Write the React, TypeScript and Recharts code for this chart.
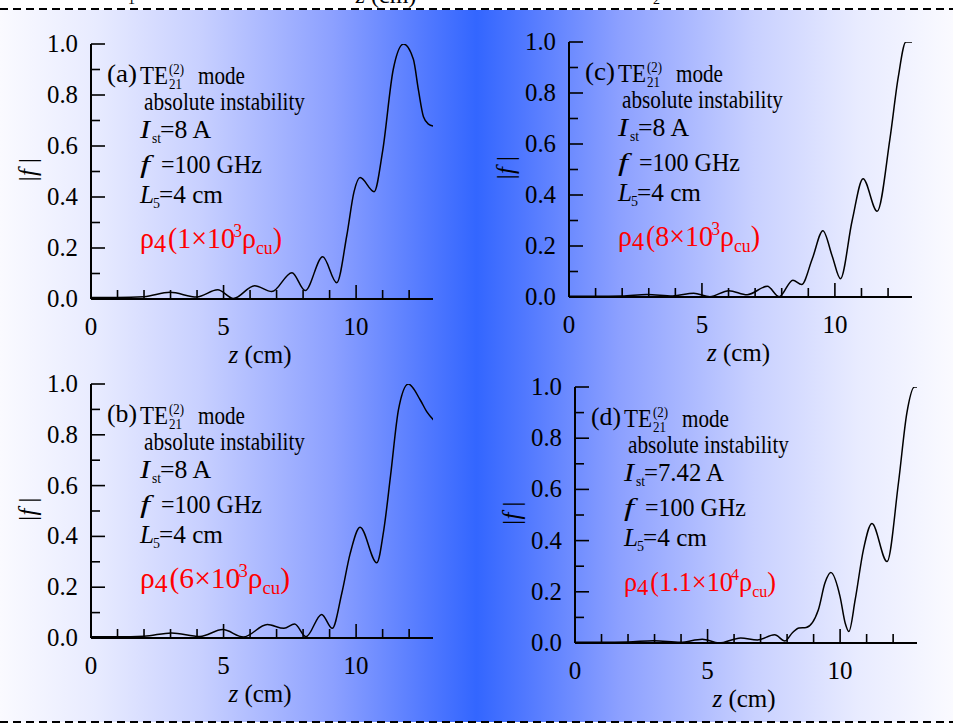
import React from 'react';
import { LineChart, Line, XAxis, YAxis } from 'recharts';

const SERIF = '"Liberation Serif", "Times New Roman", serif';

// z (cm) / |f|
const zA = [0, 1, 2, 2.98, 3.99, 4.78, 5.37, 6.17, 6.82, 7.58, 8.08, 8.74, 9.27, 9.65, 9.92, 10.15, 10.68, 11.0, 11.4, 11.79, 12.16, 12.35, 12.54, 12.73, 12.92];
const fA = [0.006, 0.006, 0.009, 0.026, 0.008, 0.036, 0.002, 0.052, 0.029, 0.103, 0.033, 0.166, 0.064, 0.25, 0.42, 0.476, 0.421, 0.58, 0.9, 1.0, 0.94, 0.82, 0.715, 0.686, 0.678];

const zB = [0, 1, 2, 3.04, 4.11, 4.97, 5.75, 6.65, 7.28, 7.68, 8.11, 8.7, 9.1, 9.46, 9.77, 10.15, 10.78, 11.05, 11.3, 11.6, 11.97, 12.42, 12.67, 12.92];
const fB = [0.005, 0.005, 0.007, 0.02, 0.006, 0.033, 0.004, 0.053, 0.038, 0.055, 0.005, 0.093, 0.038, 0.176, 0.33, 0.436, 0.296, 0.43, 0.64, 0.9, 1.0, 0.937, 0.89, 0.858];

const zC = [0, 1, 2, 2.93, 3.9, 4.69, 5.3, 6.01, 6.7, 7.46, 7.9, 8.42, 8.75, 9.15, 9.55, 9.9, 10.21, 10.65, 11.06, 11.59, 12.07, 12.38, 12.67, 12.9];
const fC = [0.003, 0.003, 0.004, 0.01, 0.004, 0.015, 0.001, 0.025, 0.009, 0.042, 0.001, 0.066, 0.049, 0.15, 0.26, 0.16, 0.072, 0.3, 0.464, 0.336, 0.62, 0.86, 1.0, 1.0];

const zD = [0, 1, 2, 2.97, 3.98, 4.8, 5.43, 6.25, 6.88, 7.53, 7.92, 8.2, 8.45, 8.72, 9.18, 9.43, 9.65, 10.0, 10.19, 10.33, 10.57, 10.88, 11.2, 11.77, 12.2, 12.52, 12.8, 12.92];
const fD = [0.003, 0.003, 0.004, 0.009, 0.003, 0.015, 0.0, 0.02, 0.012, 0.032, 0.008, 0.04, 0.059, 0.061, 0.13, 0.235, 0.275, 0.18, 0.078, 0.045, 0.17, 0.365, 0.467, 0.318, 0.625, 0.9, 1.0, 1.0];

const xTicks = [0, 1, 2, 3, 4, 5, 6, 7, 8, 9, 10, 11, 12];
const topTicks = [0, 1, 2, 3, 4, 5, 6, 7, 8, 9, 10, 11, 12, 13, 14, 15, 16, 17, 18, 19, 20, 21];
const yTicks = [0, 0.1, 0.2, 0.3, 0.4, 0.5, 0.6, 0.7, 0.8, 0.9, 1.0];
const yLabels = ['0.0', '0.1', '0.2', '0.3', '0.4', '0.5', '0.6', '0.7', '0.8', '0.9', '1.0'];

const BottomTick = (props: any) => {
  const { x, y, payload } = props;
  const major = payload.value % 5 === 0;
  return (
    <g>
      <line x1={x} x2={x} y1={y} y2={y - (major ? 14 : 9)} stroke="#000" strokeWidth={1.6} />
      {major && (
        <text x={x} y={y + 36} textAnchor="middle" fontSize={25} fontFamily={SERIF} fill="#000">
          {payload.value}
        </text>
      )}
    </g>
  );
};

const TopTick = (props: any) => {
  const { x, y, payload } = props;
  const major = payload.value % 5 === 0;
  return <line x1={x} x2={x} y1={y} y2={y + (major ? 15 : 9)} stroke="#000" strokeWidth={1.6} />;
};

const LeftTick = (props: any) => {
  const { x, y, payload, index } = props;
  const major = Math.round(payload.value * 10) % 2 === 0;
  return (
    <g>
      <line x1={x} x2={x + (major ? 14 : 9)} y1={y} y2={y} stroke="#000" strokeWidth={1.6} />
      {major && (
        <text x={x - 13} y={y + 8} textAnchor="end" fontSize={25} fontFamily={SERIF} fill="#000"
          textLength={31} lengthAdjust="spacingAndGlyphs">
          {yLabels[index]}
        </text>
      )}
    </g>
  );
};

const RightTick = (props: any) => {
  const { x, y, payload } = props;
  const major = Math.round(payload.value * 10) % 2 === 0;
  return <line x1={x} x2={x - (major ? 14 : 9)} y1={y} y2={y} stroke="#000" strokeWidth={1.6} />;
};

const Panel = ({ z, f, left, top, w, h }: any) => {
  const data = z.map((v: number, i: number) => ({ z: v, f: f[i] }));
  return (
    <div style={{ position: 'absolute', left: left - 80, top: top - 20 }}>
      <LineChart width={80 + w + 30} height={20 + h + 70} data={data} margin={{ top: 20, right: 30, bottom: 10, left: 0 }}>
        <XAxis xAxisId="x" dataKey="z" type="number" domain={[0, 12.9]} ticks={xTicks} interval={0}
          allowDataOverflow height={60} tickSize={0} tickMargin={0} tickLine={false} tick={<BottomTick />}
          axisLine={{ stroke: '#000', strokeWidth: 2 }} />
        <XAxis xAxisId="top" orientation="top" type="number" domain={[0, 21.1]} ticks={topTicks} interval={0}
          allowDataOverflow height={0} tickSize={0} tickMargin={0} tickLine={false} tick={<TopTick />}
          axisLine={{ stroke: '#000', strokeWidth: 2 }} />
        <YAxis yAxisId="y" type="number" domain={[0, 1]} ticks={yTicks} interval={0} allowDataOverflow
          width={80} tickSize={0} tickMargin={0} tickLine={false} tick={<LeftTick />}
          axisLine={{ stroke: '#000', strokeWidth: 2 }} />
        <YAxis yAxisId="r" orientation="right" type="number" domain={[0, 1]} ticks={yTicks} interval={0}
          allowDataOverflow width={0} tickSize={0} tickMargin={0} tickLine={false} tick={<RightTick />}
          axisLine={{ stroke: '#000', strokeWidth: 2 }} />
        <Line xAxisId="x" yAxisId="y" dataKey="f" type="monotone" stroke="#000" strokeWidth={1.5}
          dot={false} isAnimationActive={false} />
      </LineChart>
    </div>
  );
};

const T = ({ x, y, len, size = 25, children, ...rest }: any) => (
  <text x={x} y={y} fontSize={size} textLength={len} lengthAdjust="spacingAndGlyphs" {...rest}>
    {children}
  </text>
);

const Notes = ({ left, top, w, h, tag, current, curLen, mult, exp, redLen, big }: any) => {
  const L = left;
  const Tp = top;
  const rs = big || 30;
  return (
    <g fontFamily={SERIF} fill="#000">
      <T x={L + 16} y={Tp + 38} len={30}>({tag})</T>
      <T x={L + 49} y={Tp + 40} len={28}>TE</T>
      <T x={L + 78} y={Tp + 30} size={14} len={15}>(2)</T>
      <T x={L + 78} y={Tp + 45} size={14} len={13}>21</T>
      <T x={L + 107} y={Tp + 40} len={47}>mode</T>
      <T x={L + 53} y={Tp + 66} len={161}>absolute instability</T>
      <T x={L + 49} y={Tp + 94} fontStyle="italic" len={10}>I</T>
      <T x={L + 61} y={Tp + 99} size={14} len={9}>st</T>
      <T x={L + 69} y={Tp + 94} len={curLen}>={current} A</T>
      <T x={L + 49} y={Tp + 129} fontStyle="italic" len={10}>f</T>
      <T x={L + 70} y={Tp + 129} len={101}>=100 GHz</T>
      <T x={L + 49} y={Tp + 159} fontStyle="italic" len={14}>L</T>
      <T x={L + 62} y={Tp + 164} size={14} len={7}>5</T>
      <T x={L + 68} y={Tp + 159} len={64}>=4 cm</T>
      <text x={L + 49} y={Tp + 204} fontSize={rs} fill="#ff0000" textLength={redLen} lengthAdjust="spacingAndGlyphs">
        ρ<tspan fontSize={rs - 4} dy={4}>4</tspan>
        <tspan fontSize={rs} dy={-4} dx={2}>({mult}×10</tspan>
        <tspan fontSize={rs - 11} dy={-11} dx={-2}>{exp}</tspan>
        <tspan fontSize={rs} dy={11}>ρ</tspan>
        <tspan fontSize={rs - 11} dy={6}>cu</tspan>
        <tspan fontSize={rs} dy={-6}>)</tspan>
      </text>
      <text x={L - 64} y={Tp + h / 2 - 2} fontSize={25} textAnchor="middle" dominantBaseline="central"
        transform={`rotate(-90 ${L - 64} ${Tp + h / 2 - 2})`}>
        |<tspan fontStyle="italic">f</tspan> |
      </text>
      <text x={L + w / 2 - 2} y={Tp + h + 64} fontSize={25} textAnchor="middle">
        <tspan fontStyle="italic">z</tspan> (cm)
      </text>
    </g>
  );
};

const panels = [
  { z: zA, f: fA, left: 91, top: 44, w: 342, h: 255, tag: 'a', current: '8', curLen: 51, mult: '1', exp: '3', redLen: 142 },
  { z: zC, f: fC, left: 569, top: 42, w: 343, h: 255, tag: 'c', current: '8', curLen: 51, mult: '8', exp: '3', redLen: 142 },
  { z: zB, f: fB, left: 91, top: 384, w: 342, h: 254, tag: 'b', current: '8', curLen: 51, mult: '6', exp: '3', redLen: 150 },
  { z: zD, f: fD, left: 575, top: 387, w: 342, h: 256, tag: 'd', current: '7.42', curLen: 80, mult: '1.1', exp: '4', redLen: 152, big: 28 },
];

export default function App() {
  return (
    <div style={{ position: 'absolute', left: 0, top: 0, width: 953, height: 725, background: '#fff', overflow: 'hidden' }}>
      <div style={{
        position: 'absolute', left: 0, top: 10, width: 953, height: 712,
        background: 'linear-gradient(to right, #fafaff 0%, #e8ebff 10%, #c8d0ff 21%, #8ca0ff 35%, #5078ff 45%, #3366ff 50%, #5078ff 55%, #8ca0ff 65%, #c8d0ff 79%, #e8ebff 90%, #fafaff 100%)',
      }} />
      {panels.map((p) => (
        <Panel key={p.tag} {...p} />
      ))}
      <svg width={953} height={725} style={{ position: 'absolute', left: 0, top: 0, pointerEvents: 'none' }}>
        <line x1={0} x2={953} y1={9} y2={9} stroke="#000" strokeWidth={2} strokeDasharray="8 5" />
        <line x1={0} x2={953} y1={722} y2={722} stroke="#000" strokeWidth={2} strokeDasharray="8 5" />
        <text x={386} y={3} fontSize={24} textAnchor="middle" fontFamily={SERIF}>
          <tspan fontStyle="italic">z</tspan> (cm)
        </text>
        <text x={128} y={4} fontSize={14} fontFamily={SERIF}>1</text>
        <text x={653} y={4} fontSize={14} fontFamily={SERIF}>2</text>
        {panels.map((p) => (
          <Notes key={p.tag} {...p} />
        ))}
      </svg>
    </div>
  );
}
